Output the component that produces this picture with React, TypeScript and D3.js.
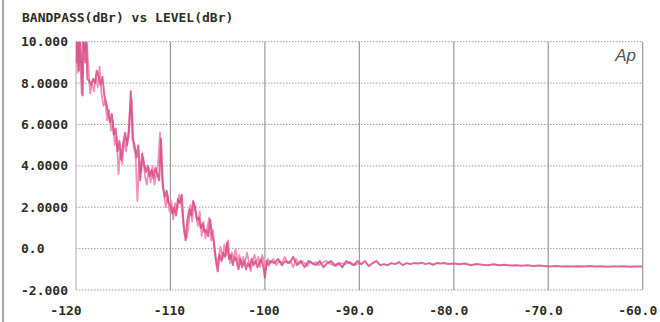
import React from "react";
import * as d3 from "d3";

const title = "BANDPASS(dBr) vs LEVEL(dBr)";
const xTicks = [-120, -110, -100, -90, -80, -70, -60];
const xTickLabels = ["-120", "-110", "-100", "-90.0", "-80.0", "-70.0", "-60.0"];
const yTicks = [10, 8, 6, 4, 2, 0, -2];
const yTickLabels = ["10.000", "8.0000", "6.0000", "4.0000", "2.0000", "0.0", "-2.000"];

// Trace A (darker sweep): [level dBr, bandpass dBr]
const traceA: [number, number][] = [
  [-120.0, 10.2], [-119.9, 9.0], [-119.8, 10.2], [-119.7, 8.6], [-119.6, 10.2], [-119.5, 9.5],
  [-119.3, 7.4], [-119.2, 10.2], [-119.0, 9.0], [-118.9, 10.2], [-118.8, 8.2], [-118.6, 8.1],
  [-118.4, 7.9], [-118.2, 8.2], [-118.0, 8.0], [-117.8, 8.6], [-117.6, 8.3], [-117.4, 7.9],
  [-117.2, 8.3], [-117.0, 7.4], [-116.8, 7.0], [-116.6, 6.6], [-116.4, 6.1], [-116.2, 6.5],
  [-116.0, 5.5], [-115.8, 5.8], [-115.6, 4.7], [-115.4, 5.2], [-115.2, 4.3], [-115.0, 5.1],
  [-114.8, 5.6], [-114.6, 5.0], [-114.4, 5.6], [-114.2, 7.6], [-114.0, 5.3], [-113.8, 5.0],
  [-113.6, 4.4], [-113.4, 5.0], [-113.2, 3.3], [-113.0, 4.6], [-112.8, 4.1], [-112.6, 3.7],
  [-112.4, 4.0], [-112.2, 3.5], [-112.0, 3.8], [-111.8, 3.4], [-111.6, 3.9], [-111.4, 3.6],
  [-111.2, 3.3], [-111.0, 5.3], [-110.8, 3.0], [-110.6, 2.5], [-110.4, 2.8], [-110.2, 2.2],
  [-110.0, 2.1], [-109.8, 1.7], [-109.6, 2.0], [-109.4, 1.6], [-109.2, 2.4], [-109.0, 2.2],
  [-108.8, 2.6], [-108.6, 1.1], [-108.4, 0.4], [-108.2, 1.4], [-108.0, 1.9], [-107.8, 1.6],
  [-107.6, 2.3], [-107.4, 2.0], [-107.2, 1.4], [-107.0, 1.5], [-106.8, 1.0], [-106.6, 1.2],
  [-106.4, 0.8], [-106.2, 0.9], [-106.0, 0.6], [-105.8, 1.4], [-105.6, 0.7], [-105.4, 0.3],
  [-105.2, -0.5], [-105.0, -1.1], [-104.8, -0.3], [-104.6, -0.6], [-104.4, -0.2], [-104.2, -0.4],
  [-104.0, 0.3], [-103.8, -0.5], [-103.6, -0.3], [-103.4, -0.8], [-103.2, -0.4], [-103.0, -0.6],
  [-102.8, -1.0], [-102.6, -0.5], [-102.4, -0.9], [-102.2, -0.6], [-102.0, -1.0], [-101.8, -0.7],
  [-101.6, -0.9], [-101.4, -0.5], [-101.2, -0.8], [-101.0, -0.6], [-100.8, -0.9], [-100.6, -0.7],
  [-100.4, -0.5], [-100.2, -0.8], [-100.0, -1.4], [-99.8, -0.6], [-99.6, -0.8], [-99.4, -0.6],
  [-99.0, -0.7], [-98.6, -0.5], [-98.2, -0.8], [-97.8, -0.6], [-97.4, -0.7], [-97.0, -0.4],
  [-96.6, -0.8], [-96.2, -0.6], [-95.8, -0.9], [-95.4, -0.6], [-95.0, -0.7], [-94.6, -0.8],
  [-94.2, -0.6], [-93.8, -0.9], [-93.4, -0.7], [-93.0, -0.6], [-92.6, -0.8], [-92.2, -0.7],
  [-91.8, -0.9], [-91.4, -0.6], [-91.0, -0.7], [-90.6, -0.8], [-90.2, -0.6], [-89.8, -0.75],
  [-89.4, -0.6], [-89.0, -0.85], [-88.6, -0.7], [-88.2, -0.6], [-87.8, -0.8], [-87.4, -0.75],
  [-87.0, -0.8], [-86.6, -0.7], [-86.2, -0.75], [-85.8, -0.65], [-85.4, -0.8], [-85.0, -0.7],
  [-84.6, -0.75], [-84.2, -0.7], [-83.8, -0.72], [-83.4, -0.68], [-83.0, -0.75], [-82.6, -0.7],
  [-82.2, -0.78], [-81.8, -0.7], [-81.4, -0.72], [-81.0, -0.7], [-80.6, -0.74], [-80.0, -0.72],
  [-79.4, -0.76], [-78.8, -0.72], [-78.2, -0.8], [-77.6, -0.74], [-77.0, -0.78], [-76.4, -0.8],
  [-75.8, -0.76], [-75.2, -0.8], [-74.6, -0.78], [-74.0, -0.82], [-73.4, -0.8], [-72.8, -0.83],
  [-72.2, -0.8], [-71.6, -0.84], [-71.0, -0.82], [-70.4, -0.84], [-69.8, -0.86], [-69.2, -0.84],
  [-68.6, -0.86], [-68.0, -0.85], [-67.4, -0.87], [-66.8, -0.85], [-66.2, -0.86], [-65.6, -0.84],
  [-65.0, -0.87], [-64.4, -0.85], [-63.8, -0.88], [-63.2, -0.86], [-62.6, -0.87], [-62.0, -0.85],
  [-61.4, -0.88], [-60.8, -0.86], [-60.2, -0.87], [-60.0, -0.88],
];

// Trace B (lighter sweep)
const traceB: [number, number][] = [
  [-120.0, 10.2], [-119.85, 8.5], [-119.7, 10.2], [-119.55, 9.0], [-119.4, 7.5], [-119.3, 10.2],
  [-119.1, 9.5], [-118.9, 10.2], [-118.7, 8.9], [-118.5, 7.5], [-118.3, 8.0], [-118.1, 7.6],
  [-117.9, 8.3], [-117.7, 7.8], [-117.5, 8.8], [-117.3, 7.5], [-117.1, 6.9], [-116.9, 7.2],
  [-116.7, 6.2], [-116.5, 6.7], [-116.3, 5.7], [-116.1, 6.2], [-115.9, 5.0], [-115.7, 5.4],
  [-115.5, 3.6], [-115.3, 4.8], [-115.1, 4.1], [-114.9, 5.3], [-114.7, 4.7], [-114.5, 5.4],
  [-114.3, 6.6], [-114.1, 7.2], [-113.9, 4.9], [-113.7, 4.6], [-113.5, 2.3], [-113.3, 4.2],
  [-113.1, 3.7], [-112.9, 4.4], [-112.7, 3.5], [-112.5, 3.1], [-112.3, 3.9], [-112.1, 3.2],
  [-111.9, 4.0], [-111.7, 3.1], [-111.5, 3.6], [-111.3, 4.2], [-111.1, 5.6], [-110.9, 3.4],
  [-110.7, 2.7], [-110.5, 2.0], [-110.3, 2.6], [-110.1, 1.8], [-109.9, 2.3], [-109.7, 1.4],
  [-109.5, 2.2], [-109.3, 1.9], [-109.1, 2.6], [-108.9, 2.4], [-108.7, 1.5], [-108.5, 0.7],
  [-108.3, 0.5], [-108.1, 1.0], [-107.9, 2.1], [-107.7, 1.3], [-107.5, 2.2], [-107.3, 1.7],
  [-107.1, 1.1], [-106.9, 1.8], [-106.7, 0.6], [-106.5, 1.3], [-106.3, 0.5], [-106.1, 1.0],
  [-105.9, 1.5], [-105.7, 0.4], [-105.5, 0.9], [-105.3, -0.2], [-105.1, -0.8], [-104.9, -0.4],
  [-104.7, 0.1], [-104.5, -0.5], [-104.3, 0.2], [-104.1, -0.3], [-103.9, 0.4], [-103.7, -0.7],
  [-103.5, -0.2], [-103.3, -0.5], [-103.1, 0.0], [-102.9, -0.7], [-102.7, -0.3], [-102.5, -0.8],
  [-102.3, -0.4], [-102.1, -0.7], [-101.9, -0.2], [-101.7, -0.6], [-101.5, -1.1], [-101.3, -0.6],
  [-101.1, -0.3], [-100.9, -0.7], [-100.7, -0.4], [-100.5, -0.9], [-100.3, -0.3], [-100.1, -0.6],
  [-99.9, -1.0], [-99.7, -0.5], [-99.4, -0.7], [-99.1, -0.5], [-98.8, -0.8], [-98.5, -0.6],
  [-98.2, -0.7], [-97.9, -0.4], [-97.6, -0.7], [-97.3, -0.6], [-97.0, -0.9], [-96.7, -0.5],
  [-96.4, -0.75], [-96.1, -0.6], [-95.8, -0.7], [-95.5, -0.85], [-95.2, -0.6], [-94.9, -0.75],
  [-94.6, -0.65], [-94.3, -0.8], [-94.0, -0.7], [-93.5, -0.6], [-93.0, -0.75], [-92.5, -0.85],
  [-92.0, -0.7], [-91.5, -0.75], [-91.0, -0.65], [-90.5, -0.8], [-90.0, -0.7],
];

const W = 660;
const H = 322;
const L = 76;
const R = 642.7;
const T = 41.7;
const B = 290;

export default function App() {
  const x = d3.scaleLinear().domain([-120, -60]).range([L, R]);
  const y = d3.scaleLinear().domain([-2, 10]).range([B, T]);
  const line = d3
    .line<[number, number]>()
    .x((d) => x(d[0]))
    .y((d) => y(d[1]));
  const mono = "'DejaVu Sans Mono', 'Liberation Mono', monospace";
  const ink = "#2e2e24";

  return (
    <svg
      width={W}
      height={H}
      viewBox={`0 0 ${W} ${H}`}
      style={{ position: "absolute", left: 0, top: 0, background: "#fff" }}
    >
      <defs>
        <clipPath id="plot">
          <rect x={L} y={T} width={R - L} height={B - T} />
        </clipPath>
      </defs>
      <rect x={0} y={0} width={W} height={H} fill="#fff" />
      <line x1={3} x2={3} y1={0} y2={H} stroke="#8a8a8a" strokeWidth={1.5} />

      <text x={22} y={22} fontFamily={mono} fontWeight="bold" fontSize={13} fill={ink}>
        {title}
      </text>

      {yTicks.map((t) => (
        <line
          key={"h" + t}
          x1={L}
          x2={R}
          y1={y(t)}
          y2={y(t)}
          stroke="#a89a9a"
          strokeWidth={1}
          strokeDasharray="1.5 1.5"
        />
      ))}
      {xTicks.map((t, i) => (
        <line
          key={"v" + t}
          x1={x(t)}
          x2={x(t)}
          y1={T}
          y2={B}
          stroke={i === 0 ? "#c8b0b8" : "#9a9a94"}
          strokeWidth={1.2}
        />
      ))}

      <g clipPath="url(#plot)" fill="none" strokeLinejoin="round">
        <path d={line(traceB) || ""} stroke="#f390ba" strokeWidth={1.8} />
        <path d={line(traceA) || ""} stroke="#d94c86" strokeWidth={2} opacity={0.85} />
      </g>

      {yTicks.map((t, i) => (
        <text
          key={"yl" + t}
          x={21}
          y={y(t)}
          dy="0.35em"
          fontFamily={mono}
          fontWeight="bold"
          fontSize={13}
          fill={ink}
        >
          {yTickLabels[i]}
        </text>
      ))}
      {xTicks.map((t, i) => (
        <text
          key={"xl" + t}
          x={x(t) + (i === 0 ? -10 : xTickLabels[i].length > 4 ? -5 : -1)}
          y={315}
          textAnchor="middle"
          fontFamily={mono}
          fontWeight="bold"
          fontSize={13}
          fill={ink}
        >
          {xTickLabels[i]}
        </text>
      ))}

      <text
        x={636}
        y={61}
        textAnchor="end"
        fontFamily="'Liberation Sans', Arial, sans-serif"
        fontStyle="italic"
        fontSize={17}
        fill="#555"
      >
        Ap
      </text>
    </svg>
  );
}
